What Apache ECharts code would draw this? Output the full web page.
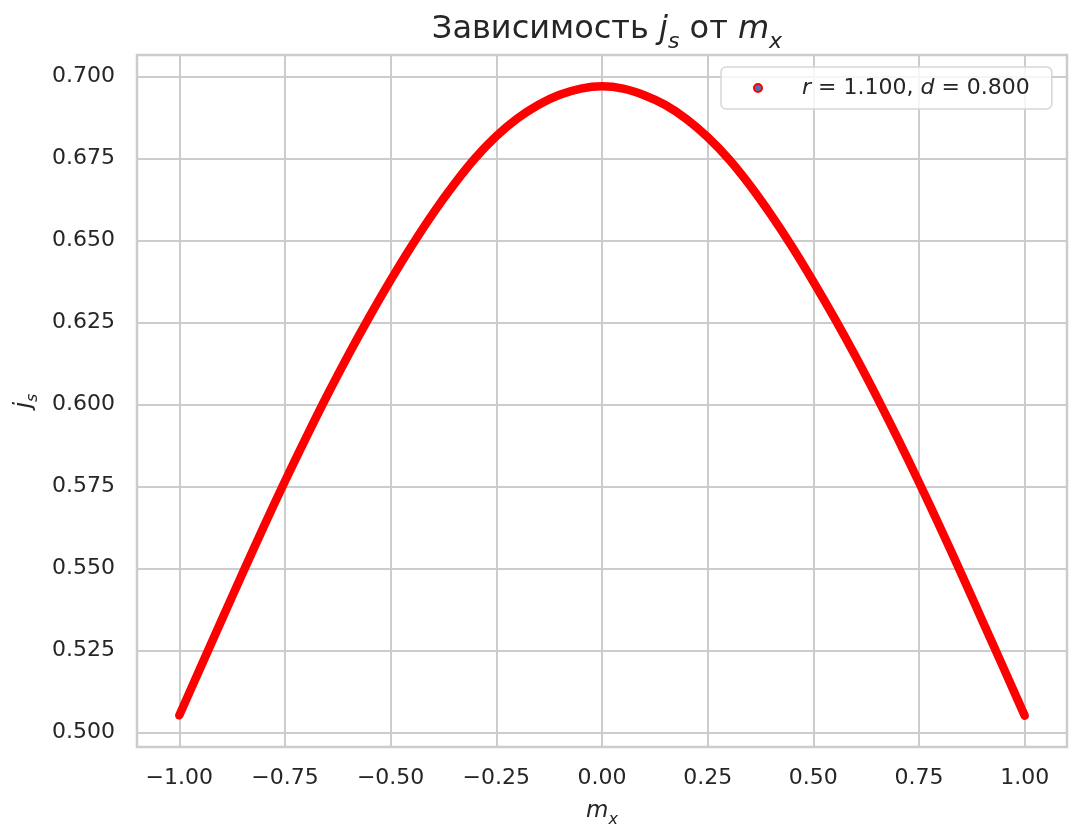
<!DOCTYPE html>
<html>
<head>
<meta charset="utf-8">
<script src="https://cdn.jsdelivr.net/npm/echarts@6/dist/echarts.min.js"></script>
<style>
html,body{margin:0;padding:0;background:#fff;}
#c{width:1082px;height:838px;}
</style>
</head>
<body>
<div id="c"></div>
<script>
// m_x values
const mx = [
  -1.00, -0.95, -0.90, -0.85, -0.80, -0.75, -0.70, -0.65, -0.60, -0.55,
  -0.50, -0.45, -0.40, -0.35, -0.30, -0.25, -0.20, -0.15, -0.10, -0.05,
   0.00,  0.05,  0.10,  0.15,  0.20,  0.25,  0.30,  0.35,  0.40,  0.45,
   0.50,  0.55,  0.60,  0.65,  0.70,  0.75,  0.80,  0.85,  0.90,  0.95, 1.00
];
// j_s values
const js = [
  0.5052, 0.5197, 0.5342, 0.5486, 0.5628, 0.5766, 0.5899, 0.6028, 0.6151, 0.6268,
  0.6379, 0.6484, 0.6582, 0.6671, 0.6751, 0.6818, 0.6872, 0.6914, 0.6944, 0.6963,
  0.6970, 0.6963, 0.6943, 0.6913, 0.6870, 0.6815, 0.6748, 0.6668, 0.6578, 0.6480,
  0.6374, 0.6263, 0.6146, 0.6023, 0.5895, 0.5762, 0.5625, 0.5484, 0.5340, 0.5196, 0.5051
];
const xTicks = [-1.00, -0.75, -0.50, -0.25, 0.00, 0.25, 0.50, 0.75, 1.00];
const yTicks = [0.500, 0.525, 0.550, 0.575, 0.600, 0.625, 0.650, 0.675, 0.700];
const seriesName = 'r = 1.100, d = 0.800';

const FONT = 'DejaVu Sans';
const TXT = '#262626';
const GRIDC = '#cccccc';

const chart = echarts.init(document.getElementById('c'));
const points = mx.map((x, i) => [x, js[i]]);

chart.setOption({
  backgroundColor: '#ffffff',
  animation: false,
  title: {
    text: '{t|Зависимость }{i|j}{sub|s}{t| от }{i|m}{sub|x}',
    left: 602,
    textAlign: 'center',
    top: 6,
    textStyle: {
      fontWeight: 'normal',
      rich: {
        t: {fontFamily: FONT, fontSize: 32, fontWeight: 'normal', color: TXT, lineHeight: 38},
        i: {fontFamily: FONT, fontSize: 32, fontWeight: 'normal', color: TXT, fontStyle: 'italic', lineHeight: 38},
        sub: {fontFamily: FONT, fontSize: 22, fontWeight: 'normal', color: TXT, fontStyle: 'italic', lineHeight: 22, verticalAlign: 'bottom', padding: [0, 0, -4, 0]}
      }
    }
  },
  grid: {
    left: 137, right: 15, top: 55, bottom: 91,
    show: true, borderColor: GRIDC, borderWidth: 2.5, backgroundColor: '#ffffff'
  },
  legend: {
    left: 721, top: 67,
    padding: [10, 22, 10, 32],
    itemWidth: 8, itemHeight: 8,
    backgroundColor: 'rgba(255,255,255,0.8)',
    borderColor: '#d6d6d6', borderWidth: 1.5, borderRadius: 5,
    data: [{name: seriesName, icon: 'circle'}],
    itemStyle: {color: '#4c72b0', borderColor: '#ff0000', borderWidth: 2},
    formatter: () => '{sp|}{i|r}{n| = 1.100, }{i|d}{n| = 0.800}',
    textStyle: {
      rich: {
        sp: {width: 35},
        i: {fontFamily: FONT, fontSize: 22, color: TXT, fontStyle: 'italic', lineHeight: 25},
        n: {fontFamily: FONT, fontSize: 22, color: TXT, lineHeight: 25}
      }
    }
  },
  xAxis: {
    type: 'value',
    min: -1.1, max: 1.1,
    name: '{i|m}{sub|x}',
    nameLocation: 'middle',
    nameGap: 51,
    nameTextStyle: {
      rich: {
        i: {fontFamily: FONT, fontSize: 23, color: TXT, fontStyle: 'italic', lineHeight: 26},
        sub: {fontFamily: FONT, fontSize: 16, color: TXT, fontStyle: 'italic', lineHeight: 16, verticalAlign: 'bottom', padding: [0, 0, -4, 0]}
      }
    },
    axisLine: {show: false},
    axisTick: {show: false, customValues: xTicks},
    axisLabel: {
      customValues: xTicks,
      fontFamily: FONT, fontSize: 22, color: TXT, margin: 20,
      formatter: v => (v < 0 ? '\u2212' : '') + Math.abs(v).toFixed(2)
    },
    splitLine: {show: true, lineStyle: {color: GRIDC, width: 2}}
  },
  yAxis: {
    type: 'value',
    min: 0.49555, max: 0.70655,
    name: '{i|j}{sub|s}',
    nameLocation: 'middle',
    nameGap: 100,
    nameRotate: 90,
    nameTextStyle: {
      rich: {
        i: {fontFamily: FONT, fontSize: 23, color: TXT, fontStyle: 'italic', lineHeight: 26},
        sub: {fontFamily: FONT, fontSize: 16, color: TXT, fontStyle: 'italic', lineHeight: 16, verticalAlign: 'bottom', padding: [0, 0, -4, 0]}
      }
    },
    axisLine: {show: false},
    axisTick: {show: false, customValues: yTicks},
    axisLabel: {
      customValues: yTicks,
      fontFamily: FONT, fontSize: 22, color: TXT, margin: 22,
      formatter: v => v.toFixed(3)
    },
    splitLine: {show: true, lineStyle: {color: GRIDC, width: 2}}
  },
  series: [{
    name: seriesName,
    type: 'line',
    data: points,
    smooth: 0.3,
    symbol: 'none',
    itemStyle: {color: '#4c72b0', borderColor: '#ff0000', borderWidth: 2},
    lineStyle: {color: '#ff0000', width: 8.5, cap: 'round', join: 'round'},
    z: 3
  }]
});
</script>
</body>
</html>
